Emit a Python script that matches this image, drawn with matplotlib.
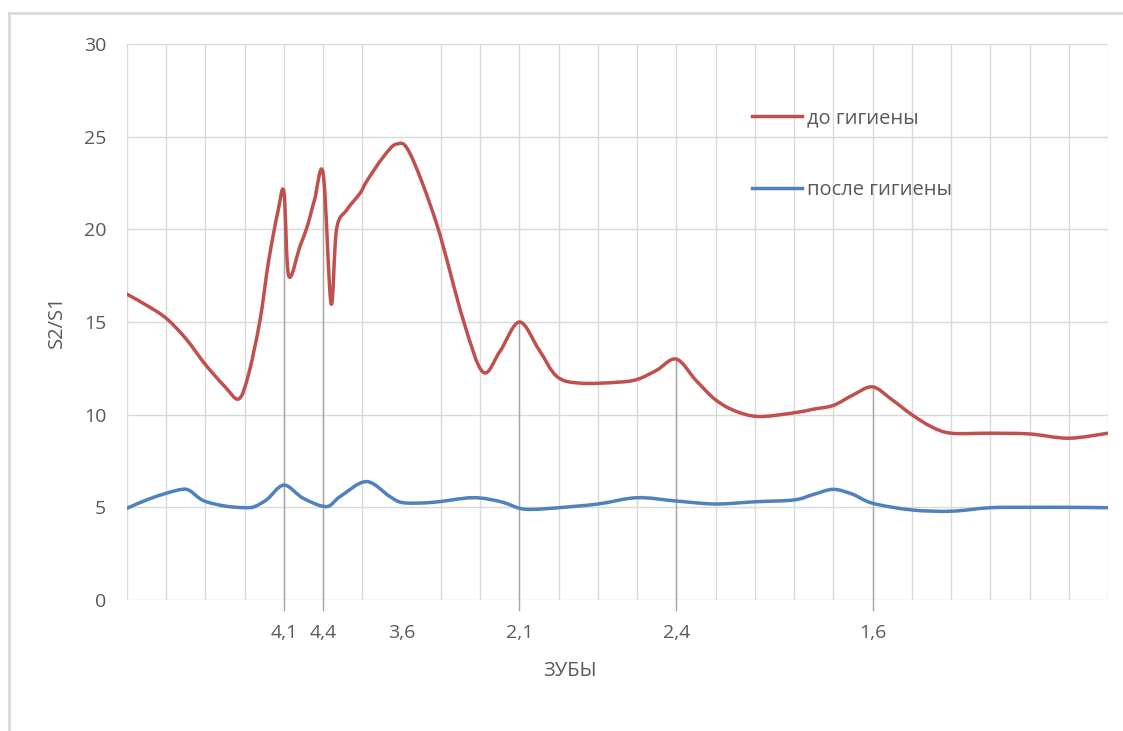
import numpy as np
import matplotlib
matplotlib.use("Agg")
import matplotlib.pyplot as plt
from matplotlib.path import Path
from matplotlib.patches import PathPatch
from matplotlib.lines import Line2D

plt.rcParams['font.family'] = ['Open Sans', 'DejaVu Sans']

# Tooth positions along the x axis (category index) and their labels
tick_pos = [4, 5, 7, 10, 14, 19]
tick_labels = ["4,1", "4,4", "3,6", "2,1", "2,4", "1,6"]
drop_pos = [4, 5, 10, 14, 19]

# "до гигиены" series: positions and S2/S1 values
red_x = [0, 0.5, 1, 1.5, 2, 2.5, 2.85, 3.1, 3.39, 3.61, 3.85, 4.0, 4.12, 4.41, 4.6,
         4.78, 5.0, 5.2, 5.34, 5.6, 5.94, 6.11, 6.53, 6.87, 7.21, 7.89, 8.57, 9.07,
         9.5, 10, 10.5, 10.96, 11.55, 12.5, 13.0, 13.5, 14.0, 14.5, 15.0, 15.5, 16.1,
         17.0, 17.5, 18.0, 18.5, 19.0, 19.5, 20.0, 20.5, 21.0, 22.0, 23.0, 24.0, 25.0]
red_y = [16.5, 15.9, 15.2, 14.1, 12.7, 11.5, 10.85, 12.2, 15.1, 18.3, 21.0, 22.0, 17.5,
         19.1, 20.2, 21.6, 23.0, 16.0, 20.0, 21.05, 21.95, 22.6, 23.9, 24.6, 24.1, 20.3,
         15.1, 12.3, 13.4, 15.0, 13.5, 12.05, 11.7, 11.75, 11.9, 12.4, 13.0, 11.85, 10.8,
         10.2, 9.9, 10.1, 10.3, 10.5, 11.06, 11.5, 10.8, 10.0, 9.35, 9.0, 9.0, 8.96,
         8.73, 9.0]

# "после гигиены" series
blue_x = [0, 0.5, 1.0, 1.4, 1.6, 1.95, 2.5, 3.0, 3.25, 3.57, 4.0, 4.49, 5.08, 5.43,
          6.1, 6.7, 7.04, 7.8, 8.81, 9.53, 10.0, 10.35, 11.0, 12.0, 13.0, 14.0, 15.0,
          16.0, 17.0, 17.5, 18.0, 18.5, 19.0, 20.0, 21.0, 22.0, 23.0, 24.0, 25.0]
blue_y = [4.95, 5.4, 5.76, 5.97, 5.9, 5.36, 5.07, 4.98, 5.04, 5.43, 6.2, 5.49, 5.04,
          5.58, 6.39, 5.58, 5.25, 5.27, 5.52, 5.3, 4.95, 4.89, 4.98, 5.18, 5.52, 5.34,
          5.18, 5.3, 5.4, 5.7, 5.97, 5.7, 5.22, 4.86, 4.79, 4.98, 5.0, 5.0, 4.98]

RED = "#C0504D"
BLUE = "#4F81BD"
GRID = "#D9D9D9"
TEXT = "#595959"


def smooth_path(xs, ys):
    """Cubic Bezier path through the points (Catmull-Rom style tangents)."""
    p = np.column_stack([xs, ys]).astype(float)
    n = len(p)
    verts = [p[0]]
    codes = [Path.MOVETO]
    for i in range(n - 1):
        p0 = p[i - 1] if i > 0 else p[i]
        p1 = p[i]
        p2 = p[i + 1]
        p3 = p[i + 2] if i + 2 < n else p[i + 1]
        c1 = p1 + (p2 - p0) / 6.0
        c2 = p2 - (p3 - p1) / 6.0
        verts += [c1, c2, p2]
        codes += [Path.CURVE4] * 3
    return Path(verts, codes)


fig = plt.figure(figsize=(11.23, 7.31), dpi=100)
ax = fig.add_axes([127 / 1123, 131 / 731, 981 / 1123, 556 / 731])

ax.set_xlim(0, 25)
ax.set_ylim(0, 30)

# light grid: every category except the 3,6 column
for gx in range(26):
    if gx == 7:
        continue
    ax.axvline(gx, color=GRID, lw=1.0, zorder=0)
for gy in range(0, 31, 5):
    ax.axhline(gy, color=GRID, lw=1.0, zorder=0)

for s in ax.spines.values():
    s.set_visible(False)

# drop lines from the upper curve to the axis
red_at = dict(zip(red_x, red_y))
for dx in drop_pos:
    ax.plot([dx, dx], [-0.55, red_at[dx]], color="#A6A6A6", lw=1.0,
            zorder=1, clip_on=False)

ax.add_patch(PathPatch(smooth_path(red_x, red_y), fill=False, edgecolor=RED,
                       lw=2.5, capstyle='round', joinstyle='round', zorder=3))
ax.add_patch(PathPatch(smooth_path(blue_x, blue_y), fill=False, edgecolor=BLUE,
                       lw=2.5, capstyle='round', joinstyle='round', zorder=3))

ax.set_xticks(tick_pos)
ax.set_xticklabels(tick_labels)
ax.set_yticks(range(0, 31, 5))
ax.tick_params(axis='x', length=0, pad=17, labelsize=14, labelcolor=TEXT)
ax.tick_params(axis='y', length=0, pad=15, labelsize=14, labelcolor=TEXT)

ax.set_xlabel("ЗУБЫ", fontsize=14.5, color=TEXT)
ax.xaxis.set_label_coords((570 - 127) / 981, (600 - 661) / 556)
ax.set_ylabel("S2/S1", fontsize=14.5, color=TEXT, labelpad=12)

handles = [Line2D([], [], color=RED, lw=2.5), Line2D([], [], color=BLUE, lw=2.5)]
ax.legend(handles, ["до гигиены", "после гигиены"], loc='upper left',
          bbox_to_anchor=(752 / 1123, 1 - 108 / 731), bbox_transform=fig.transFigure,
          frameon=False, fontsize=14.5, labelcolor=TEXT, handlelength=2.5,
          handletextpad=0.25, labelspacing=2.6, borderpad=0, borderaxespad=0)

# chart frame
fig.add_artist(Line2D([9 / 1123, 9 / 1123], [0, 1 - 13 / 731], color="#D9D9D9",
                      lw=2, transform=fig.transFigure))
fig.add_artist(Line2D([9 / 1123, 1], [1 - 13 / 731, 1 - 13 / 731], color="#D9D9D9",
                      lw=2, transform=fig.transFigure))

fig.savefig("out.png", dpi=100)
